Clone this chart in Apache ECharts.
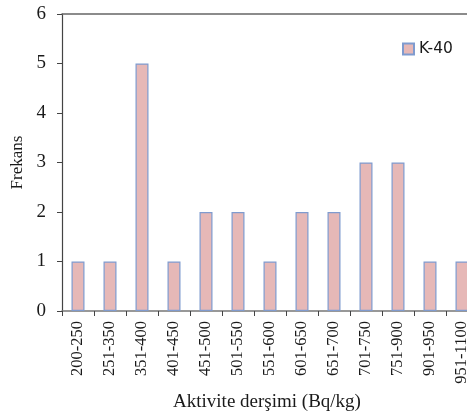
<!DOCTYPE html>
<html>
<head>
<meta charset="utf-8">
<script src="https://cdn.jsdelivr.net/npm/echarts@6/dist/echarts.min.js"></script>
<style>
  html, body { margin: 0; padding: 0; background: #fff; }
  #chart { width: 467px; height: 414px; }
</style>
</head>
<body>
<div id="chart"></div>
<script>
// aralıklar (Bq/kg)
const categories = ["200-250", "251-350", "351-400", "401-450", "451-500", "501-550",
  "551-600", "601-650", "651-700", "701-750", "751-900", "901-950", "951-1100"];
// K-40 frekansları
const k40 = [1, 1, 5, 1, 2, 2, 1, 2, 2, 3, 3, 1, 1];
const yTicks = [0, 1, 2, 3, 4, 5, 6];

const chart = echarts.init(document.getElementById("chart"));
chart.setOption({
  backgroundColor: "#fff",
  animation: false,
  grid: { left: 62, right: -11, top: 14, bottom: 103, containLabel: false,
    outerBoundsMode: "none" },
  legend: {
    data: [{ name: "K-40", icon: "rect" }],
    left: 397, top: 36,
    itemWidth: 11, itemHeight: 11, itemGap: 5,
    textStyle: { fontFamily: "DejaVu Sans", fontSize: 15.5, color: "#1a1a1a" }
  },
  xAxis: [
    {
      type: "category",
      data: categories,
      name: "Aktivite derşimi (Bq/kg)",
      nameLocation: "middle",
      nameGap: 82,
      nameTextStyle: { fontFamily: "Liberation Serif", fontSize: 19, color: "#1a1a1a",
        padding: [0, 0, 0, -6] },
      axisLine: { lineStyle: { color: "#777", width: 1.5 } },
      axisTick: { show: true, length: 5, lineStyle: { color: "#444" } },
      axisLabel: { rotate: 90, fontFamily: "Liberation Serif", fontSize: 16.5, color: "#1a1a1a",
        margin: 10, interval: 0 }
    },
    {
      // üst çerçeve çizgisi
      type: "category",
      data: categories,
      position: "top",
      axisLine: { show: true, lineStyle: { color: "#666", width: 1.5 } },
      axisTick: { show: false },
      axisLabel: { show: false }
    }
  ],
  yAxis: {
    type: "value",
    min: 0, max: 6, interval: 1,
    name: "Frekans",
    nameLocation: "middle",
    nameGap: 34,
    nameTextStyle: { fontFamily: "Liberation Serif", fontSize: 17, color: "#1a1a1a" },
    axisLine: { show: true, lineStyle: { color: "#444", width: 1.2 } },
    axisTick: { show: true, length: 5, lineStyle: { color: "#444" } },
    splitLine: { show: false },
    axisLabel: { fontFamily: "Liberation Serif", fontSize: 19, color: "#1a1a1a", margin: 16,
      formatter: v => yTicks.includes(v) ? String(v) : "" }
  },
  series: [
    {
      name: "K-40",
      type: "bar",
      data: k40,
      barWidth: 13,
      itemStyle: { color: "#E6B8B7", borderColor: "#7F9BCF", borderWidth: 1.2 }
    }
  ]
});
</script>
</body>
</html>
